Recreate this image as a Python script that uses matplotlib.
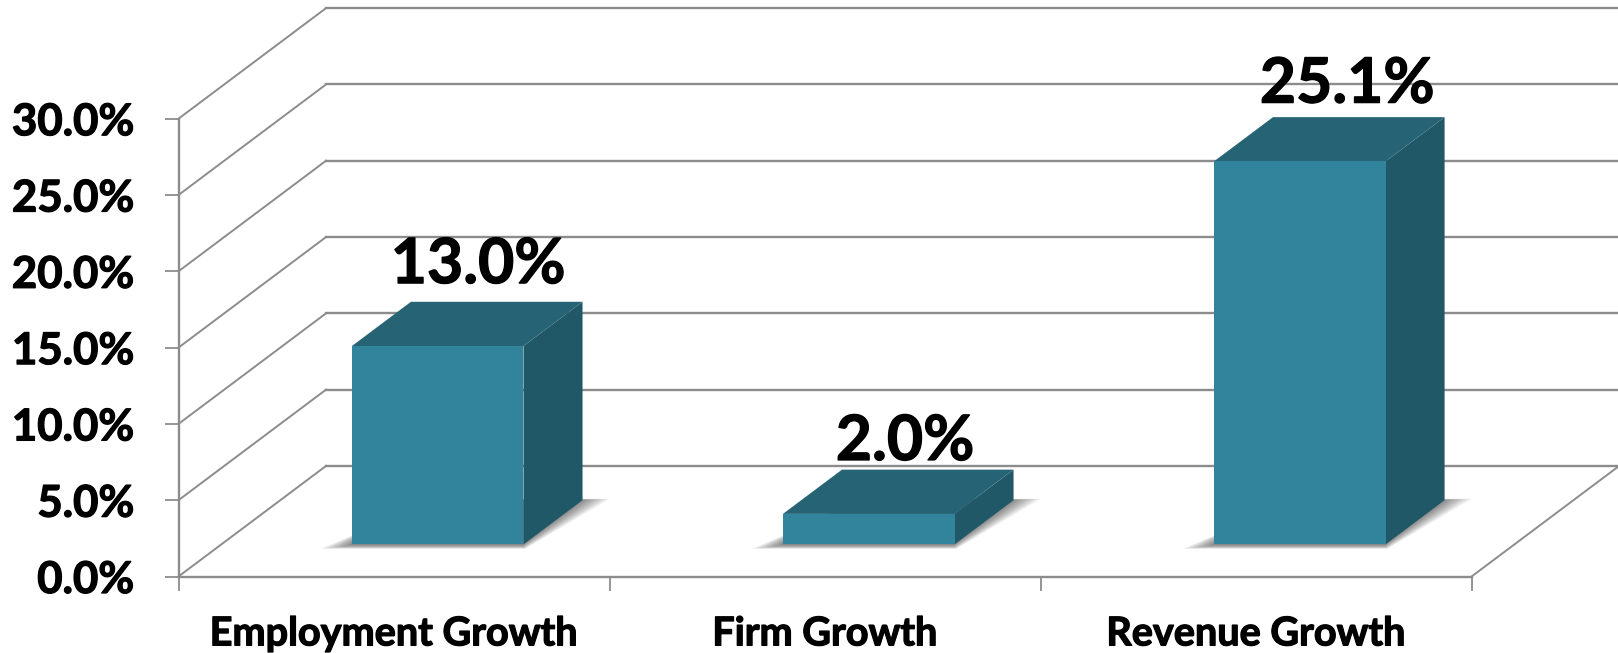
import matplotlib
matplotlib.use('Agg')
import matplotlib.pyplot as plt
import matplotlib.patheffects as pe
from matplotlib.patches import Polygon
from matplotlib.ticker import FixedLocator, FixedFormatter

categories = ['Employment Growth', 'Firm Growth', 'Revenue Growth']
growth = [13.0, 2.0, 25.1]
bar_labels = ['13.0%', '2.0%', '25.1%']
yticks = [0, 5, 10, 15, 20, 25, 30]
ytick_labels = ['0.0%', '5.0%', '10.0%', '15.0%', '20.0%', '25.0%', '30.0%']

plt.rcParams['font.family'] = ['Lato', 'DejaVu Sans']
plt.rcParams['font.weight'] = 'bold'

GRID = '#8c8c8c'
FRONT = '#31849b'
TOP = '#266475'
SIDE = '#205867'

# floor depth of the fake 3d box, in data units
DEPTH_X = 0.3425
DEPTH_Y = 7.25
BAR_W = 0.398
BAR_SHIFT = 0.002
D_FRONT = 0.29
D_BACK = 0.69

# label nudges, points
label_dx = [0, -3, 5]
label_dy = [23, 16.5, 20]

heavy = [pe.withStroke(linewidth=0.9, foreground='black')]


def proj(x, y, d):
    return (x + d * DEPTH_X, y + d * DEPTH_Y)


fig = plt.figure(figsize=(16.18, 6.53), dpi=100)
ax = fig.add_axes([178.5 / 1618, 1 - 576.5 / 653, (1471.6 - 178.5) / 1618, (576.5 - 118.7) / 653])
ax.set_xlim(-0.5, 2.5)
ax.set_ylim(0, 30)
ax.patch.set_visible(False)

# walls
for t in yticks:
    ax.plot(*zip(proj(-0.5, t, 0), proj(-0.5, t, 1)), color=GRID, lw=1.4, clip_on=False, zorder=1)
    ax.plot(*zip(proj(-0.5, t, 1), proj(2.5, t, 1)), color=GRID, lw=1.7, clip_on=False, zorder=1)
ax.plot(*zip(proj(2.5, 0, 0), proj(2.5, 0, 1)), color=GRID, lw=1.4, clip_on=False, zorder=1)

# bars
for i, v in enumerate(growth):
    l = i + BAR_SHIFT - BAR_W / 2
    r = i + BAR_SHIFT + BAR_W / 2

    # soft shadow on the floor, stacked polygons
    n = 24
    for k in range(n):
        f = k / (n - 1)
        grow = 0.06 * (1 - f) ** 1.5
        lift = 0.04 * (1 - f)
        pts = [proj(l - grow, 0, D_FRONT - lift), proj(r + grow * 0.3, 0, D_FRONT - lift),
               proj(r + grow, 0, D_BACK + lift * 0.3), proj(l + grow, 0, D_BACK + lift * 0.3)]
        ax.add_patch(Polygon(pts, closed=True, fc='#6e6e6e', ec='none', alpha=0.06,
                             clip_on=False, zorder=2))

    front = [proj(l, 0, D_FRONT), proj(r, 0, D_FRONT), proj(r, v, D_FRONT), proj(l, v, D_FRONT)]
    side = [proj(r, 0, D_FRONT), proj(r, 0, D_BACK), proj(r, v, D_BACK), proj(r, v, D_FRONT)]
    top = [proj(l, v, D_FRONT), proj(r, v, D_FRONT), proj(r, v, D_BACK), proj(l, v, D_BACK)]
    ax.add_patch(Polygon(side, closed=True, fc=SIDE, ec='none', clip_on=False, zorder=3))
    ax.add_patch(Polygon(top, closed=True, fc=TOP, ec='none', clip_on=False, zorder=3))
    ax.add_patch(Polygon(front, closed=True, fc=FRONT, ec='none', clip_on=False, zorder=4))

    ax.annotate(bar_labels[i], xy=proj(i, v, 0.57), xytext=(label_dx[i], label_dy[i]),
                textcoords='offset points', ha='center', va='baseline', fontsize=45,
                fontweight='bold', color='black', annotation_clip=False, zorder=5,
                path_effects=heavy)

# axes
for s in ['top', 'right']:
    ax.spines[s].set_visible(False)
for s in ['left', 'bottom']:
    ax.spines[s].set_color(GRID)
    ax.spines[s].set_linewidth(1.7)
    ax.spines[s].set_zorder(1)

ax.set_yticks(yticks)
ax.set_yticklabels(ytick_labels, fontsize=31.5, fontweight='bold', path_effects=heavy)
ax.tick_params(axis='y', direction='out', length=10, width=1.3, color=GRID, pad=22)

ax.xaxis.set_major_locator(FixedLocator([-0.5, 0.5, 1.5, 2.5]))
ax.xaxis.set_major_formatter(FixedFormatter(['', '', '', '']))
ax.xaxis.set_minor_locator(FixedLocator([0, 1, 2]))
ax.xaxis.set_minor_formatter(FixedFormatter(categories))
ax.tick_params(axis='x', which='major', direction='out', length=10, width=1.3, color=GRID)
ax.tick_params(axis='x', which='minor', length=0, pad=28, labelsize=28.5)
for lab in ax.get_xticklabels(minor=True):
    lab.set_fontweight('bold')
    lab.set_path_effects(heavy)

fig.savefig('out.png', dpi=100, facecolor='white')
